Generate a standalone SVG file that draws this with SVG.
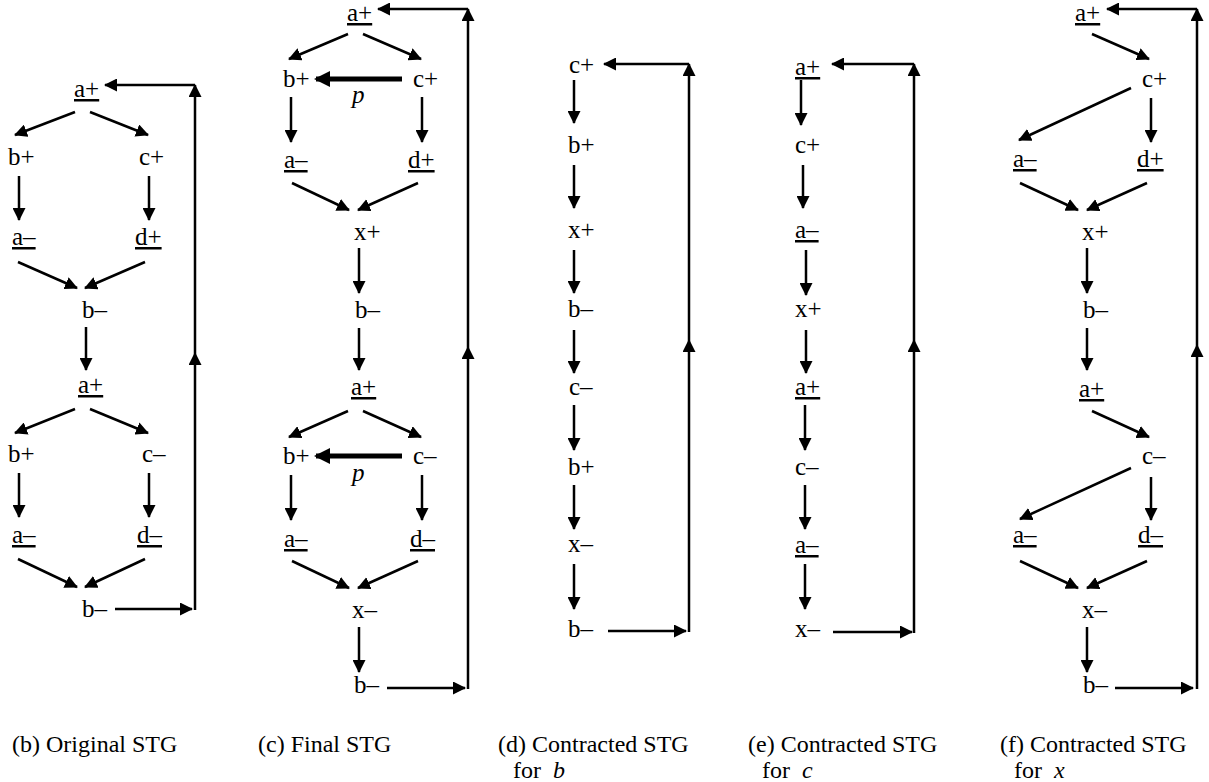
<svg xmlns="http://www.w3.org/2000/svg" width="1209" height="782" viewBox="0 0 1209 782" font-family="'Liberation Serif', 'Times New Roman', 'DejaVu Serif', serif">
<style>
text{font-family:"Liberation Serif","Times New Roman","DejaVu Serif",serif;font-size:25px;fill:#000}
.u{text-decoration:underline}
.i{font-style:italic}
.cap{font-size:24px}
.c line{stroke:#000;stroke-width:2.5;marker-end:url(#ah)}
.c line.t{stroke-width:5;marker-end:url(#ahb)}
</style>
<defs>
<marker id="ah" markerUnits="userSpaceOnUse" markerWidth="13" markerHeight="13" refX="12" refY="6.5" orient="auto"><path d="M0,0 L13,6.5 L0,13 z" fill="#000"/></marker>
<marker id="ahb" markerUnits="userSpaceOnUse" markerWidth="16" markerHeight="16" refX="14" refY="8" orient="auto"><path d="M0,0 L16,8 L0,16 z" fill="#000"/></marker>
</defs>
<rect width="1209" height="782" fill="#fff"/>

<g id="panel-b">
<g id="b-a1"><text x="74" y="97" class="u">a+</text></g>
<g id="b-b1"><text x="8" y="165">b+</text></g>
<g id="b-c1"><text x="139" y="165">c+</text></g>
<g id="b-am1"><text x="12" y="245" class="u">a–</text></g>
<g id="b-d1"><text x="135" y="245" class="u">d+</text></g>
<g id="b-bm1"><text x="82" y="318">b–</text></g>
<g id="b-a2"><text x="78" y="393" class="u">a+</text></g>
<g id="b-b2"><text x="8" y="462">b+</text></g>
<g id="b-c2"><text x="142" y="462">c–</text></g>
<g id="b-am2"><text x="12" y="543" class="u">a–</text></g>
<g id="b-d2"><text x="137" y="543" class="u">d–</text></g>
<g id="b-bm2"><text x="82" y="617">b–</text></g>
</g>

<g id="panel-c">
<g id="c-a1"><text x="347" y="21" class="u">a+</text></g>
<g id="c-b1"><text x="283" y="87">b+</text></g>
<g id="c-c1"><text x="413" y="87">c+</text></g>
<g id="c-p1"><text x="352" y="103" class="i">p</text></g>
<g id="c-am1"><text x="284" y="168" class="u">a–</text></g>
<g id="c-d1"><text x="408" y="168" class="u">d+</text></g>
<g id="c-x1"><text x="354" y="240">x+</text></g>
<g id="c-bm1"><text x="355" y="318">b–</text></g>
<g id="c-a2"><text x="351" y="395" class="u">a+</text></g>
<g id="c-b2"><text x="283" y="464">b+</text></g>
<g id="c-c2"><text x="413" y="464">c–</text></g>
<g id="c-p2"><text x="352" y="481" class="i">p</text></g>
<g id="c-am2"><text x="284" y="547" class="u">a–</text></g>
<g id="c-d2"><text x="410" y="547" class="u">d–</text></g>
<g id="c-x2"><text x="352" y="618">x–</text></g>
<g id="c-bm2"><text x="354" y="693">b–</text></g>
</g>

<g id="panel-d">
<g id="d-c1"><text x="569" y="73">c+</text></g>
<g id="d-b1"><text x="568" y="153">b+</text></g>
<g id="d-x1"><text x="568" y="238">x+</text></g>
<g id="d-bm1"><text x="568" y="317">b–</text></g>
<g id="d-c2"><text x="569" y="395">c–</text></g>
<g id="d-b2"><text x="568" y="475">b+</text></g>
<g id="d-x2"><text x="568" y="552">x–</text></g>
<g id="d-bm2"><text x="568" y="637">b–</text></g>
</g>

<g id="panel-e">
<g id="e-a1"><text x="795" y="75" class="u">a+</text></g>
<g id="e-c1"><text x="795" y="153">c+</text></g>
<g id="e-am1"><text x="795" y="238" class="u">a–</text></g>
<g id="e-x1"><text x="795" y="317">x+</text></g>
<g id="e-a2"><text x="795" y="395" class="u">a+</text></g>
<g id="e-c2"><text x="795" y="475">c–</text></g>
<g id="e-am2"><text x="795" y="553" class="u">a–</text></g>
<g id="e-x2"><text x="795" y="637">x–</text></g>
</g>

<g id="panel-f">
<g id="f-a1"><text x="1075" y="21" class="u">a+</text></g>
<g id="f-c1"><text x="1142" y="87">c+</text></g>
<g id="f-am1"><text x="1013" y="167" class="u">a–</text></g>
<g id="f-d1"><text x="1137" y="167" class="u">d+</text></g>
<g id="f-x1"><text x="1082" y="240">x+</text></g>
<g id="f-bm1"><text x="1083" y="318">b–</text></g>
<g id="f-a2"><text x="1079" y="397" class="u">a+</text></g>
<g id="f-c2"><text x="1142" y="464">c–</text></g>
<g id="f-am2"><text x="1013" y="543" class="u">a–</text></g>
<g id="f-d2"><text x="1138" y="543" class="u">d–</text></g>
<g id="f-x2"><text x="1082" y="618">x–</text></g>
<g id="f-bm2"><text x="1083" y="693">b–</text></g>
</g>

<g id="connectors" class="c">
<!-- panel b -->
<line x1="75" y1="112" x2="15" y2="135"/>
<line x1="90" y1="112" x2="148" y2="135"/>
<line x1="19" y1="176" x2="19" y2="220"/>
<line x1="149" y1="176" x2="149" y2="220"/>
<line x1="18" y1="262" x2="77" y2="288"/>
<line x1="145" y1="262" x2="85" y2="288"/>
<line x1="86" y1="327" x2="86" y2="370"/>
<line x1="75" y1="409" x2="15" y2="433"/>
<line x1="90" y1="409" x2="148" y2="433"/>
<line x1="19" y1="473" x2="19" y2="517"/>
<line x1="149" y1="473" x2="149" y2="517"/>
<line x1="18" y1="559" x2="77" y2="587"/>
<line x1="145" y1="559" x2="85" y2="587"/>
<line x1="115" y1="609" x2="192" y2="609"/>
<line x1="195" y1="610" x2="195" y2="353"/>
<line x1="195" y1="353" x2="195" y2="85"/>
<line x1="195" y1="85" x2="105" y2="85"/>
<!-- panel c -->
<line x1="348" y1="34" x2="289" y2="59"/>
<line x1="363" y1="34" x2="421" y2="59"/>
<line class="t" x1="402" y1="79" x2="316" y2="79"/>
<line x1="291" y1="97" x2="291" y2="142"/>
<line x1="422" y1="97" x2="422" y2="142"/>
<line x1="292" y1="183" x2="349" y2="210"/>
<line x1="418" y1="183" x2="358" y2="210"/>
<line x1="359" y1="248" x2="359" y2="293"/>
<line x1="359" y1="328" x2="359" y2="370"/>
<line x1="348" y1="411" x2="289" y2="437"/>
<line x1="363" y1="411" x2="421" y2="437"/>
<line class="t" x1="402" y1="456" x2="316" y2="456"/>
<line x1="291" y1="475" x2="291" y2="520"/>
<line x1="422" y1="475" x2="422" y2="520"/>
<line x1="292" y1="561" x2="349" y2="588"/>
<line x1="418" y1="561" x2="358" y2="588"/>
<line x1="359" y1="627" x2="359" y2="672"/>
<line x1="387" y1="688" x2="465" y2="688"/>
<line x1="468" y1="689" x2="468" y2="347"/>
<line x1="468" y1="347" x2="468" y2="9"/>
<line x1="468" y1="9" x2="378" y2="9"/>
<!-- panel d -->
<line x1="574" y1="80" x2="574" y2="123"/>
<line x1="574" y1="165" x2="574" y2="208"/>
<line x1="574" y1="250" x2="574" y2="293"/>
<line x1="574" y1="330" x2="574" y2="373"/>
<line x1="574" y1="405" x2="574" y2="450"/>
<line x1="574" y1="485" x2="574" y2="529"/>
<line x1="574" y1="564" x2="574" y2="609"/>
<line x1="608" y1="631" x2="686" y2="631"/>
<line x1="689" y1="632" x2="689" y2="340"/>
<line x1="689" y1="340" x2="689" y2="64"/>
<line x1="689" y1="64" x2="604" y2="64"/>
<!-- panel e -->
<line x1="801" y1="80" x2="801" y2="125"/>
<line x1="803" y1="165" x2="803" y2="208"/>
<line x1="806" y1="250" x2="806" y2="295"/>
<line x1="806" y1="330" x2="806" y2="373"/>
<line x1="805" y1="405" x2="805" y2="450"/>
<line x1="805" y1="485" x2="805" y2="529"/>
<line x1="805" y1="564" x2="805" y2="609"/>
<line x1="833" y1="632" x2="912" y2="632"/>
<line x1="914" y1="633" x2="914" y2="340"/>
<line x1="914" y1="340" x2="914" y2="64"/>
<line x1="914" y1="64" x2="832" y2="64"/>
<!-- panel f -->
<line x1="1092" y1="34" x2="1149" y2="59"/>
<line x1="1131" y1="88" x2="1019" y2="140"/>
<line x1="1151" y1="98" x2="1151" y2="142"/>
<line x1="1020" y1="183" x2="1078" y2="210"/>
<line x1="1147" y1="183" x2="1087" y2="210"/>
<line x1="1087" y1="248" x2="1087" y2="293"/>
<line x1="1087" y1="328" x2="1087" y2="370"/>
<line x1="1092" y1="411" x2="1149" y2="437"/>
<line x1="1131" y1="468" x2="1020" y2="519"/>
<line x1="1151" y1="477" x2="1151" y2="520"/>
<line x1="1020" y1="561" x2="1078" y2="588"/>
<line x1="1147" y1="561" x2="1087" y2="588"/>
<line x1="1087" y1="627" x2="1087" y2="672"/>
<line x1="1115" y1="688" x2="1193" y2="688"/>
<line x1="1197" y1="689" x2="1197" y2="345"/>
<line x1="1197" y1="345" x2="1197" y2="9"/>
<line x1="1197" y1="9" x2="1107" y2="9"/>
</g>

<g id="captions">
<text class="cap" x="12" y="752">(b) Original STG</text>
<text class="cap" x="258" y="752">(c) Final STG</text>
<text class="cap" x="498" y="752">(d) Contracted STG</text>
<text class="cap" x="513" y="778">for <tspan class="i" dx="6">b</tspan></text>
<text class="cap" x="748" y="752">(e) Contracted STG</text>
<text class="cap" x="762" y="778">for <tspan class="i" dx="6">c</tspan></text>
<text class="cap" x="1000" y="752">(f) Contracted STG</text>
<text class="cap" x="1014" y="778">for <tspan class="i" dx="6">x</tspan></text>
</g>
</svg>
